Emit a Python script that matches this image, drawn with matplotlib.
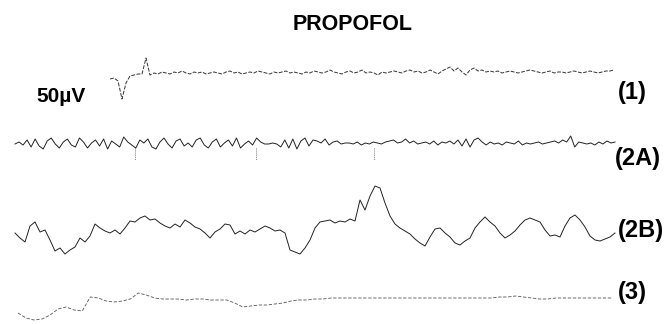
import numpy as np
import matplotlib.pyplot as plt

plt.rcParams['font.family'] = ['Liberation Sans', 'DejaVu Sans']

title = "PROPOFOL"
scale_label = "50µV"
labels = ["(1)", "(2A)", "(2B)", "(3)"]

trace1 = [-6, -5, -8, -26, -10, -3, -2, -1, -1, 15, -2, 0, -1, 1, 0, -1, 1, 0, 2, 0,
          -1, 1, 0, 1, -1, 0, 1, 0, -1, 1, 2, 0, 1, -1, 0, 1, 0, 2, 1, 0,
          -1, 1, 0, 1, 2, 0, 1, 0, -1, 1, 0, 2, 1, 0, 1, 3, 1, 0, -1, 1,
          2, 0, 1, 3, 0, 1, 0, -2, 1, 0, 1, 2, 1, 0, 2, 3, 1, 2, 0, 1,
          3, 1, -1, 2, 4, 6, 2, 5, 1, -2, 3, 5, 2, 3, 1, 2, 1, 2, 0, 1,
          2, 1, 0, 1, 2, 3, 2, 1, 0, 1, 2, 0, 1, 1, 0, 1, 2, 1, 0, 1,
          2, 1, 0, 1, 2, 2, 3]
trace2a = [0, 2, -1, 4, -3, 5, -2, -5, 3, 6, 0, -4, 2, 5, -1, -3, 6, 2, -4, 1,
           4, -2, 5, -5, 3, 0, -3, 7, 2, -1, -4, 4, 1, 5, -3, -5, 2, 6, 0, -4,
           3, 5, -2, 1, -3, 4, 6, -1, -4, 2,
           5, -3, 1, 4, -2, 6, -4, 0, 3, -1, 6, 2, 0, 0, 1, 0, -3, 4, -4, 5,
           -5, 3, 6, -2, 4, 3, 1, 5, -1, 2, 3, 0, 1, 1, 0, 2, -1, 1, 0, 2,
           1, 0, 2, 3, 4, 1, 2, 5, 1, 3, 0,
           1, 2, 0, 3, -1, 2, 1, 3, 0, 4, -2, 5, -3, 4, 6, 2, -1, 2, 0, 1,
           -1, 2, 1, 0, 3, -1, 1, 0, 1, 2, 0, 1, 2, 3, 1, 4, 2, 8, -3, 2,
           1, 0, 1, -1, 2, 0, 3, 1, 2]
trace2b = [-1, -6, -10, 6, 10, 0, 2, -8, -19, -16, -22, -18, -15, -6, -10, -4, 8, 4, 1, -1,
           2, -2, 4, 11, 10, 14, 16, 12, 13, 9, 6, 4, 8, 5, 12, 9, 5, 3, -1, -6,
           0, 3, 8, 7, -2, 1, -2, 2, 0, 3, 6, 4, 1, 2, -1, -18, -20, -22, -16, -8,
           4, 10, 11, 12, 9, 11, 10, 13, 11, 32, 22, 36, 46, 44, 29, 16, 8, 4, 1, -2,
           -7, -11, -14, -5, 3, 4, -1, -5, -11, -13, -9, -6, 4, 10, 15, 10, 6, -1, -6, -3,
           1, 7, 12, 14, 12, 10, 2, -4, -3, -5, 6, 14, 17, 12, 5, -4, -8, -9, -7, -5,
           -1]
trace3 = [-13, -18, -20, -19, -15, -9, -7, -10, -11, 3, 2, -1, -2, -1, 1, 7, 5, 2, 1, 1,
          1, 0, 1, 1, 0, 0, 0, -3, -7, -6, -5, -5, -4, -3, -1, 0, 0, 1, 1, 2,
          2, 2, 2, 2, 2, 2, 2, 2, 2, 2, 2, 2, 2, 2, 2, 2, 2, 2, 2, 2,
          3, 3, 4, 3, 2, 1, 1, 2, 2, 2, 2, 2, 2, 2, 2]
artifacts_2a = [135, 256, 374]

fig = plt.figure(figsize=(6.67, 3.24), dpi=100)
ax = fig.add_axes([0, 0, 1, 1])
ax.set_xlim(0, 667)
ax.set_ylim(324, 0)
ax.axis('off')

traces = [
    (trace1, 110, 614, 73, 0.7, '#333333', (0, (4, 1.5))),
    (trace2a, 15, 615, 144, 0.7, '#222222', '-'),
    (trace2b, 15, 615, 232, 0.7, '#222222', '-'),
    (trace3, 18, 612, 300, 0.6, '#555555', (0, (4, 2))),
]
for vals, x0, x1, base, lw, col, ls in traces:
    x = np.linspace(x0, x1, len(vals))
    ax.plot(x, base - np.array(vals), color=col, lw=lw, ls=ls)

for xa in artifacts_2a:
    ax.plot([xa, xa], [148, 160], color='#444444', lw=0.6, ls=(0, (1, 1.5)))

ax.text(353, 25, title, ha='center', va='center', fontsize=15.5, fontweight='bold')
ax.text(61, 97, scale_label, ha='center', va='center', fontsize=15, fontweight='bold')

label_pos = [(632, 92), (638, 158), (641, 230), (632, 293)]
for lab, (lx, ly) in zip(labels, label_pos):
    ax.text(lx, ly, lab, ha='center', va='center', fontsize=17, fontweight='bold')

fig.savefig('out.png', dpi=100)
